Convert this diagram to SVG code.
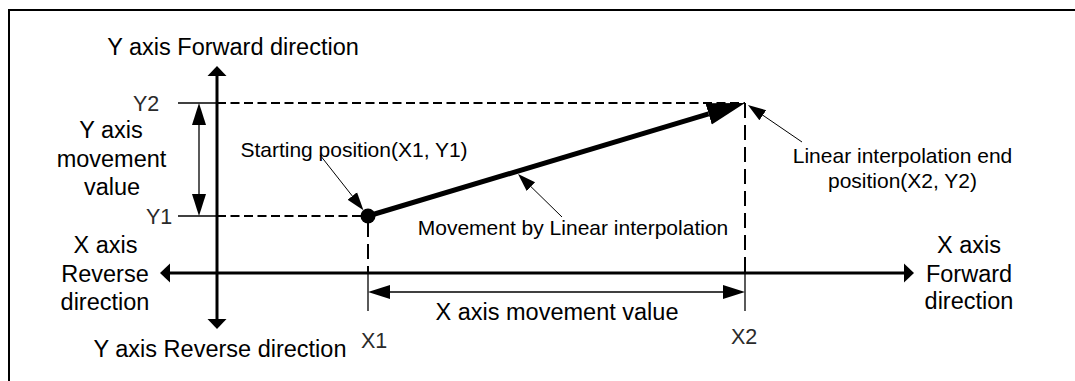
<svg xmlns="http://www.w3.org/2000/svg" width="1075" height="381" viewBox="0 0 1075 381">
<style>
  .frame{fill:none;stroke:#000;stroke-width:2}
  .axis{fill:none;stroke:#000;stroke-width:3}
  .thin{fill:none;stroke:#000;stroke-width:1.3}
  .dashH{fill:none;stroke:#000;stroke-width:2;stroke-dasharray:9 4.5}
  .dashV{fill:none;stroke:#000;stroke-width:2;stroke-dasharray:15 7}
  .main{fill:none;stroke:#000;stroke-width:5}
  .leader{fill:none;stroke:#000;stroke-width:1}
  .big{font-family:"Liberation Sans",Arial,sans-serif;font-size:23.5px;fill:#000;text-anchor:middle}
  .small{font-family:"Liberation Sans",Arial,sans-serif;font-size:21px;fill:#000;text-anchor:middle}
  .tick{font-family:"Liberation Sans",Arial,sans-serif;font-size:21.5px;fill:#2a2a2a}
</style>
<defs>
  <marker id="axisHead" markerUnits="userSpaceOnUse" viewBox="0 -10 11 20" refX="0" refY="0" markerWidth="11" markerHeight="20" orient="auto-start-reverse">
    <path d="M0,-9.5 L10,0 L0,9.5 Z" fill="#000"/>
  </marker>
  <marker id="dimHead" markerUnits="userSpaceOnUse" viewBox="0 -8 23 16" refX="0" refY="0" markerWidth="23" markerHeight="16" orient="auto-start-reverse">
    <path d="M0,-7 L22,0 L0,7 Z" fill="#000"/>
  </marker>
  <marker id="mainHead" markerUnits="userSpaceOnUse" viewBox="0 -12 39 24" refX="0" refY="0" markerWidth="39" markerHeight="24" orient="auto">
    <path d="M0,-11 L38,0 L0,11 Z" fill="#000"/>
  </marker>
  <marker id="leaderHead" markerUnits="userSpaceOnUse" viewBox="0 -7 19 14" refX="0" refY="0" markerWidth="19" markerHeight="14" orient="auto">
    <path d="M0,-6 L18,0 L0,6 Z" fill="#000"/>
  </marker>
</defs>

<g id="frame">
  <path class="frame" d="M9,381 V10 H1075"/>
</g>

<g id="axes">
  <line class="axis" x1="217" y1="76" x2="217" y2="319" marker-start="url(#axisHead)" marker-end="url(#axisHead)"/>
  <line class="axis" x1="170" y1="273" x2="904" y2="273" marker-start="url(#axisHead)" marker-end="url(#axisHead)"/>
</g>

<g id="guides">
  <line class="thin" x1="178" y1="103" x2="217" y2="103"/>
  <line class="dashH" x1="217" y1="103" x2="745" y2="103"/>
  <line class="thin" x1="178" y1="216" x2="217" y2="216"/>
  <line class="dashH" x1="217" y1="216" x2="362" y2="216"/>
  <line class="dashV" x1="368" y1="222" x2="368" y2="273"/>
  <line class="thin" x1="368" y1="273" x2="368" y2="311"/>
  <line class="dashV" x1="745" y1="103" x2="745" y2="273"/>
  <line class="thin" x1="745" y1="273" x2="745" y2="311"/>
</g>

<g id="dimensions">
  <line class="thin" x1="199" y1="125" x2="199" y2="194" marker-start="url(#dimHead)" marker-end="url(#dimHead)"/>
  <line class="thin" x1="390" y1="292" x2="723" y2="292" marker-start="url(#dimHead)" marker-end="url(#dimHead)"/>
</g>

<g id="movement">
  <line class="main" x1="368" y1="216" x2="708.6" y2="113.9" marker-end="url(#mainHead)"/>
  <circle id="start-point" cx="368" cy="216" r="7.5" fill="#000"/>
</g>

<g id="connectors">
  <line class="leader" x1="320" y1="155" x2="352.3" y2="196" marker-end="url(#leaderHead)"/>
  <line class="leader" x1="562" y1="217" x2="530.9" y2="186.6" marker-end="url(#leaderHead)"/>
  <line class="leader" x1="802" y1="142" x2="762.8" y2="115.2" marker-end="url(#leaderHead)"/>
</g>

<g id="labels">
  <text class="big" x="233" y="55">Y axis Forward direction</text>
  <text class="big" x="220" y="356.5">Y axis Reverse direction</text>
  <g id="y-move-label">
    <text class="big" x="111" y="138">Y axis</text>
    <text class="big" x="111.5" y="166.5">movement</text>
    <text class="big" x="112" y="195">value</text>
  </g>
  <g id="x-reverse-label">
    <text class="big" x="105.5" y="253">X axis</text>
    <text class="big" x="105" y="281.5">Reverse</text>
    <text class="big" x="105" y="310">direction</text>
  </g>
  <g id="x-forward-label">
    <text class="big" x="969" y="252.5">X axis</text>
    <text class="big" x="969" y="281.5">Forward</text>
    <text class="big" x="969" y="309">direction</text>
  </g>
  <text class="big" x="557" y="320">X axis movement value</text>
  <text class="small" x="354" y="157">Starting position(X1, Y1)</text>
  <text class="small" x="573" y="235">Movement by Linear interpolation</text>
  <g id="end-label">
    <text class="small" x="902.5" y="163">Linear interpolation end</text>
    <text class="small" x="902.5" y="188">position(X2, Y2)</text>
  </g>
  <text class="tick" x="133" y="111">Y2</text>
  <text class="tick" x="146" y="223.5">Y1</text>
  <text class="tick" x="361" y="348">X1</text>
  <text class="tick" x="731" y="343.5">X2</text>
</g>
</svg>
